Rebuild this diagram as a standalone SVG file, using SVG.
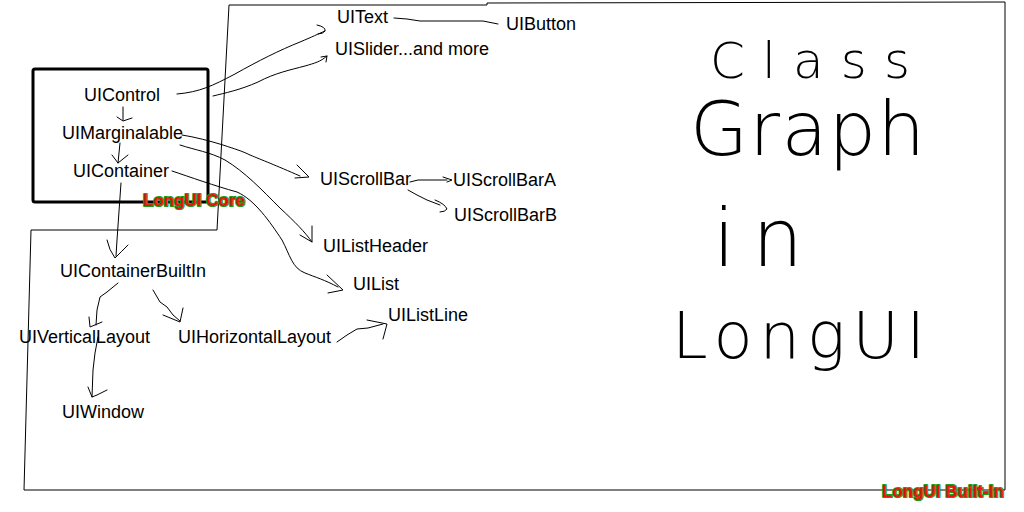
<svg xmlns="http://www.w3.org/2000/svg" width="1024" height="512" viewBox="0 0 1024 512">
<style>
.t{font-family:"Liberation Sans",Arial,sans-serif;font-size:18px;fill:#000}
.lbl{font-family:"Liberation Sans",Arial,sans-serif;font-weight:bold;font-size:17px;fill:#ee1111;stroke:#1c9c1c;stroke-width:2.2px;paint-order:stroke;stroke-linejoin:round}
.c{fill:none;stroke:#000;stroke-width:1;stroke-linecap:round;stroke-linejoin:round}
.hw{font-family:"DejaVu Sans","Liberation Sans",sans-serif;font-weight:200;fill:#000}
</style>
<rect width="1024" height="512" fill="#fff"/>
<g id="frames">
<path d="M229,5 L487,5 L487,3 L1005,2 L1005,490 L24,490 L31,230 L217,230 Z" fill="none" stroke="#000" stroke-width="1"/>
<rect x="33" y="69" width="175" height="133" rx="2" fill="none" stroke="#000" stroke-width="3"/>
</g>
<g id="connectors">
<path class="c" d="M177,94 C200,92 212,86 235,74 C258,61 280,50 300,42 C312,37 318,34 325,31"/>
<path class="c" d="M317,25 Q326,27 325,31 Q323,34 318,34"/>
<path class="c" d="M213,96 C225,93 240,90 258,82 C275,73 290,70 305,66 C315,63 320,62 327,56"/>
<path class="c" d="M321,57 L327,56 L326,62"/>
<path class="c" d="M394,18 L407,19 L420,21 L483,21 L498,24"/>
<path class="c" d="M182,135 C195,137 210,141 223,145 C235,149 242,151 250,155 C262,160 275,165 300,176"/>
<path class="c" d="M297,165 L309,177 L295,178"/>
<path class="c" d="M180,145 C195,150 210,152 225,160 C245,172 262,190 280,208 C295,222 305,232 312,242"/>
<path class="c" d="M312,226 L312,242 L300,235"/>
<path class="c" d="M172,171 C190,177 215,186 237,192 C255,200 270,222 282,240 C290,255 292,268 305,273 C315,277 325,280 338,287"/>
<path class="c" d="M327,275 L343,290 L328,293"/>
<path class="c" d="M410,182 L418,180 L447,180"/>
<path class="c" d="M443,177 L452,180 L447,182"/>
<path class="c" d="M408,190 L417,195 L427,200 L440,205"/>
<path class="c" d="M435,200 Q445,204 447,209 Q445,212 440,212"/>
<path class="c" d="M123,107 L123,120"/>
<path class="c" d="M117,117 L123,121 L132,118"/>
<path class="c" d="M120,143 L118,163"/>
<path class="c" d="M112,155 L118,163 L128,155"/>
<path class="c" d="M121,183 L117,240 L116,256"/>
<path class="c" d="M107,240 Q109,250 115,258 Q121,252 128,245"/>
<path class="c" d="M118,283 L107,292 L100,297 L97,310 L96,325"/>
<path class="c" d="M89,317 L90,327 L102,322"/>
<path class="c" d="M153,290 L160,302 L167,307 L173,315 L180,321"/>
<path class="c" d="M163,315 L180,322 L183,308"/>
<path class="c" d="M98,337 L95,353 L93,370 L92,397"/>
<path class="c" d="M88,387 L92,397 L97,395 L107,390"/>
<path class="c" d="M337,342 L347,335 L357,329 L368,328 L383,324"/>
<path class="c" d="M367,320 L387,324 L383,339"/>
</g>
<g id="UIControl"><text class="t" x="84" y="101">UIControl</text></g>
<g id="UIMarginalable"><text class="t" x="62" y="139">UIMarginalable</text></g>
<g id="UIContainer"><text class="t" x="73" y="177">UIContainer</text></g>
<g id="LongUICore"><text class="lbl" x="143" y="206">LongUI Core</text></g>
<g id="UIText"><text class="t" x="337" y="23">UIText</text></g>
<g id="UIButton"><text class="t" x="506" y="30">UIButton</text></g>
<g id="UISlider"><text class="t" x="335" y="55">UISlider...and more</text></g>
<g id="UIScrollBar"><text class="t" x="320" y="185">UIScrollBar</text></g>
<g id="UIScrollBarA"><text class="t" x="453" y="186">UIScrollBarA</text></g>
<g id="UIScrollBarB"><text class="t" x="454" y="221">UIScrollBarB</text></g>
<g id="UIListHeader"><text class="t" x="323" y="252">UIListHeader</text></g>
<g id="UIList"><text class="t" x="353" y="290">UIList</text></g>
<g id="UIListLine"><text class="t" x="388" y="321">UIListLine</text></g>
<g id="UIContainerBuiltIn"><text class="t" x="60" y="277">UIContainerBuiltIn</text></g>
<g id="UIVerticalLayout"><text class="t" x="19" y="343">UIVerticalLayout</text></g>
<g id="UIHorizontalLayout"><text class="t" x="178" y="343">UIHorizontalLayout</text></g>
<g id="UIWindow"><text class="t" x="62" y="418">UIWindow</text></g>
<g id="LongUIBuiltIn"><text class="lbl" x="882" y="497">LongUI Built-In</text></g>
<g id="title">
<text class="hw" x="710" y="78" font-size="50" textLength="200" lengthAdjust="spacing">Class</text>
<text class="hw" x="690" y="155" font-size="75" textLength="235" lengthAdjust="spacing">Graph</text>
<text class="hw" x="713" y="266" font-size="80" textLength="90" lengthAdjust="spacing">in</text>
<text class="hw" x="672" y="358" font-size="64" textLength="253" lengthAdjust="spacing">LongUI</text>
</g>
</svg>
